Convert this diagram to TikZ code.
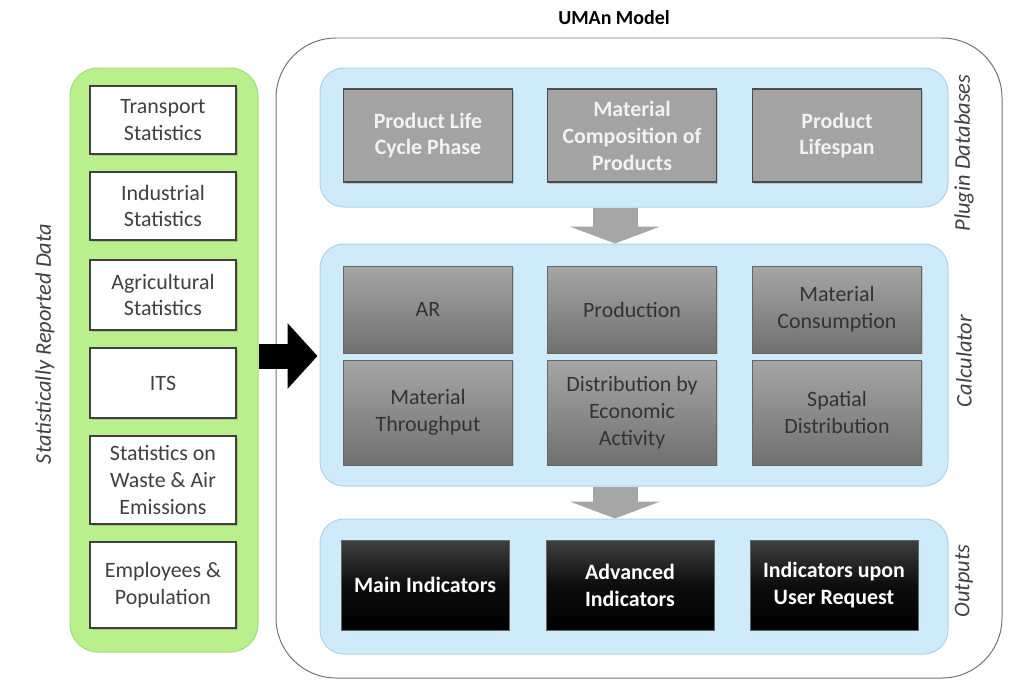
\documentclass[tikz,border=0pt]{standalone}
\usepackage{fontspec}
\setmainfont{Carlito}
\usepackage{tikz}
\usetikzlibrary{arrows.meta,shadows}

\definecolor{greenpanel}{RGB}{185,240,140}
\definecolor{greenedge}{RGB}{160,220,120}
\definecolor{bluepanel}{RGB}{205,235,251}
\definecolor{blueedge}{RGB}{175,210,232}
\definecolor{txtgray}{RGB}{64,64,64}

\begin{document}
\begin{tikzpicture}[
  every node/.style={font=\fontsize{22}{27}\selectfont,align=center},
  panel/.style={draw=blueedge,fill=bluepanel,rounded corners=24bp,line width=1pt,minimum width=628bp},
  inbox/.style={draw=black!75,fill=white,line width=1.6pt,minimum width=146bp,text=txtgray,
    drop shadow={shadow xshift=1.5bp,shadow yshift=-1.5bp,opacity=0.35}},
  plugbox/.style={draw=black!70,fill=black!36,line width=1.4pt,minimum width=169bp,minimum height=93bp,
    text=white!95!black,font=\fontsize{22}{27}\selectfont\bfseries,
    drop shadow={shadow xshift=1.5bp,shadow yshift=-1.5bp,opacity=0.35}},
  calcbox/.style={draw=black!60,top color=black!35,bottom color=black!56,line width=1pt,minimum width=169bp,
    text=black!80,drop shadow={shadow xshift=1bp,shadow yshift=-1bp,opacity=0.3}},
  outbox/.style={draw=black!60,top color=black!75,bottom color=black,middle color=black!95,line width=1pt,
    minimum width=168bp,minimum height=90bp,text=white,font=\fontsize{22}{27}\selectfont\bfseries},
  sidelabel/.style={rotate=90,text=txtgray,font=\fontsize{22.5}{27}\selectfont\itshape},
  grayarrow/.style={line width=45bp,draw=black!35,-{Triangle[width=90bp,length=17bp]}}
]
\useasboundingbox (0bp,0bp) rectangle (1012bp,-685bp);

% frames
\node (FRAME) at (639bp,-358bp)[draw=black!55,line width=1pt,rounded corners=60bp,minimum width=726bp,minimum height=640bp] {};
\node (SRD) at (164bp,-360bp)[draw=greenedge,fill=greenpanel,line width=1pt,rounded corners=28bp,minimum width=188bp,minimum height=584bp] {};
\node (PLUG) at (634bp,-137.5bp)[panel,minimum height=139bp] {};
\node (CALC) at (634bp,-365bp)[panel,minimum height=242bp] {};
\node (OUT) at (634bp,-586.5bp)[panel,minimum height=135bp] {};

% titles
\node (TITLE) at (614bp,-18bp)[font=\fontsize{20}{27}\selectfont\bfseries] {UMAn Model};
\node (LSRD) at (45bp,-344bp)[sidelabel] {Statistically Reported Data};
\node (LPLUG) at (964bp,-153bp)[sidelabel] {Plugin Databases};
\node (LCALC) at (964bp,-361bp)[sidelabel] {Calculator};
\node (LOUT) at (964bp,-581bp)[sidelabel] {Outputs};

% statistical inputs
\node (TS) at (163bp,-120bp)[inbox,minimum height=68bp] {Transport\\Statistics};
\node (IS) at (163bp,-206bp)[inbox,minimum height=68bp] {Industrial\\Statistics};
\node (AS) at (163bp,-295bp)[inbox,minimum height=70bp] {Agricultural\\Statistics};
\node (ITS) at (163bp,-383bp)[inbox,minimum height=70bp] {ITS};
\node (WAE) at (163bp,-480bp)[inbox,minimum height=88bp] {Statistics on\\Waste \& Air\\Emissions};
\node (EP) at (163bp,-585bp)[inbox,minimum height=86bp] {Employees \&\\Population};

% plugin databases
\node (P1) at (428bp,-135.5bp)[plugbox] {Product Life\\Cycle Phase};
\node (P2) at (632bp,-135.5bp)[plugbox] {Material\\Composition of\\Products};
\node (P3) at (837bp,-135.5bp)[plugbox] {Product\\Lifespan};

% calculator
\node (C11) at (428bp,-309.5bp)[calcbox,minimum height=87bp] {AR};
\node (C12) at (632bp,-309.5bp)[calcbox,minimum height=87bp] {Production};
\node (C13) at (837bp,-309.5bp)[calcbox,minimum height=87bp] {Material\\Consumption};
\node (C21) at (428bp,-412.5bp)[calcbox,minimum height=105bp] {Material\\Throughput};
\node (C22) at (632bp,-412.5bp)[calcbox,minimum height=105bp] {Distribution by\\Economic\\Activity};
\node (C23) at (837bp,-412.5bp)[calcbox,minimum height=105bp] {Spatial\\Distribution};

% outputs
\node (O1) at (425bp,-585bp)[outbox] {Main Indicators};
\node (O2) at (630bp,-585bp)[outbox] {Advanced\\Indicators};
\node (O3) at (834bp,-585bp)[outbox] {Indicators upon\\User Request};

% arrows
\coordinate (MID) at (615bp,0bp);
\coordinate (FEED) at (0bp,-356bp);
\draw [line width=25bp,-{Triangle[width=64bp,length=30bp]}] (SRD.east |- FEED) -- ([xshift=-2bp]CALC.west |- FEED);
\draw [grayarrow] (PLUG.south -| MID) -- (CALC.north -| MID);
\draw [grayarrow] (CALC.south -| MID) -- (OUT.north -| MID);
\end{tikzpicture}
\end{document}
